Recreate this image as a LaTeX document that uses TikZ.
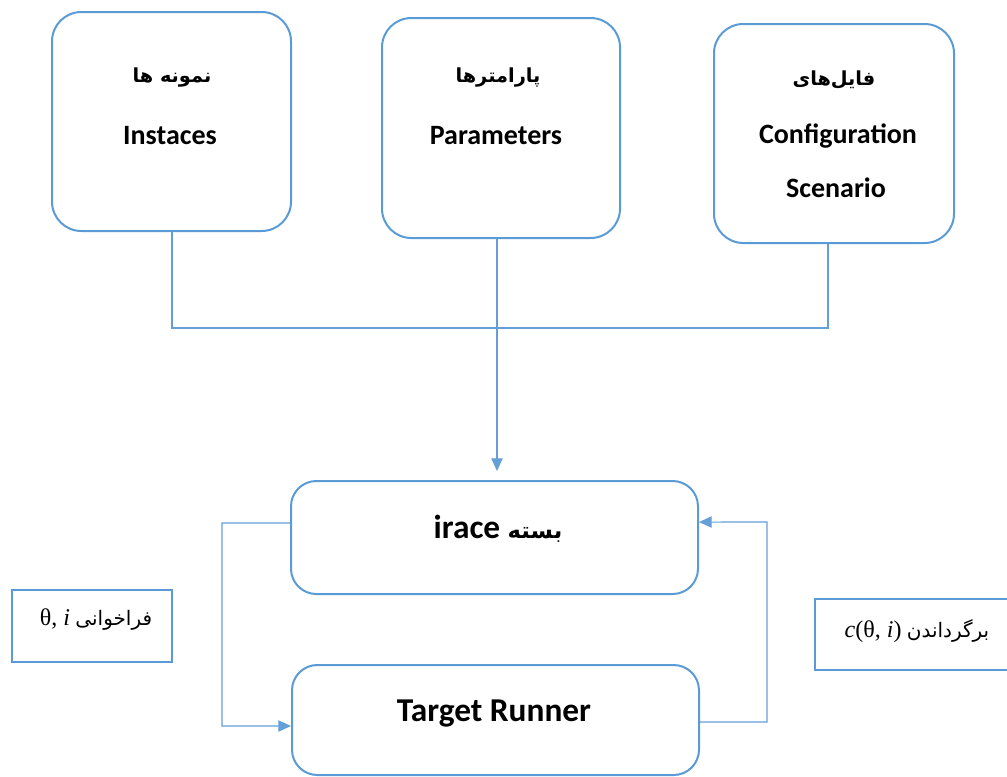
\documentclass[tikz,border=0pt]{standalone}
\usepackage{fontspec}
\setmainfont{Carlito}
\newfontfamily\arabicfont[Script=Arabic]{DejaVu Sans}
\newfontfamily\greekserif{Liberation Serif}
\TeXXeTstate=1
\usetikzlibrary{arrows.meta}
\definecolor{boxblue}{RGB}{91,155,213}
\definecolor{lineblue}{RGB}{100,160,215}
\begin{document}
\begin{tikzpicture}[x=0.75pt,y=-0.75pt,
  bigbox/.style={draw=boxblue,line width=1.5pt,rounded corners=22pt,inner sep=0pt},
  midbox/.style={draw=boxblue,line width=1.5pt,rounded corners=19pt,inner sep=0pt},
  labbox/.style={draw=boxblue,line width=1.5pt,inner sep=0pt},
  conn/.style={draw=lineblue,line width=0.8pt},
  tip/.style={-{Triangle[length=9.5pt,width=8.5pt]}},
  entext/.style={font=\bfseries\fontsize{21}{25}\selectfont,inner sep=0pt},
  bigtext/.style={font=\bfseries\fontsize{25}{29}\selectfont,inner sep=0pt},
  fatext/.style={font=\arabicfont\bfseries\fontsize{14.5}{18}\selectfont,inner sep=0pt},
  labtext/.style={font=\fontsize{18}{22}\selectfont,inner sep=0pt}]
\path[use as bounding box] (0,0) rectangle (1007,776);
\clip (0,0) rectangle (1007,776);
% top boxes
\node[bigbox,minimum width=179.25pt,minimum height=164.25pt] (box1) at (171.5,121.5) {};
\node[bigbox,minimum width=178.5pt,minimum height=165pt] (box2) at (501,128) {};
\node[bigbox,minimum width=180pt,minimum height=164.25pt] (box3) at (834,133.5) {};
\node[fatext] (fa1) at (172,78) {\beginR نمونه ها\endR};
\node[entext] (en1) at (170,136) {Instaces};
\node[fatext] (fa2) at (498,78) {\beginR پارامترها\endR};
\node[entext] (en2) at (496,136) {Parameters};
\node[fatext] (fa3) at (834,80) {\beginR فایل‌های\endR};
\node[entext] (en3a) at (838,136) {Configuration};
\node[entext] (en3b) at (836,188) {Scenario};
% lower boxes
\node[midbox,minimum width=305.25pt,minimum height=84.75pt] (irace) at (494.5,537.5) {};
\node[midbox,minimum width=305.25pt,minimum height=82.5pt] (runner) at (495.5,720) {};
\node[bigtext] (iracetxt) at (498,529) {irace\ {\arabicfont\bfseries\fontsize{17}{20}\selectfont\beginR بسته\endR}};
\node[bigtext] (runnertxt) at (494,714) {Target Runner};
% label boxes
\node[labbox,minimum width=120pt,minimum height=54pt] (labL) at (92,626) {};
\node[labbox,minimum width=153.75pt,minimum height=53.25pt] (labR) at (917.5,634.5) {};
\node[labtext] (labLtxt) at (96,620) {{\greekserif θ, \textit{i}}\ {\arabicfont\fontsize{15}{18}\selectfont\beginR فراخوانی\endR}};
\node[labtext] (labRtxt) at (917,631) {{\greekserif\textit{c}(θ, \textit{i})}\ {\arabicfont\fontsize{15}{18}\selectfont\beginR برگرداندن\endR}};
% connectors from top boxes
\coordinate (j1) at (172,328);
\coordinate (j3) at (828,328);
\draw[conn] (box1.south -| j1) -- (j1) -- (j3) -- (box3.south -| j3);
\draw[conn,tip] (box2.south -| 497,0) -- (497,471);
% loops
\draw[conn,tip] ([yshift=10.9pt]irace.west) -- (222,523) -- (222,726) -- ([yshift=-4.5pt]runner.west);
\draw[conn,tip] ([yshift=-1.5pt]runner.east) -- (767,722) -- (767,522) -- ([yshift=11.6pt]irace.east);
\end{tikzpicture}
\end{document}
